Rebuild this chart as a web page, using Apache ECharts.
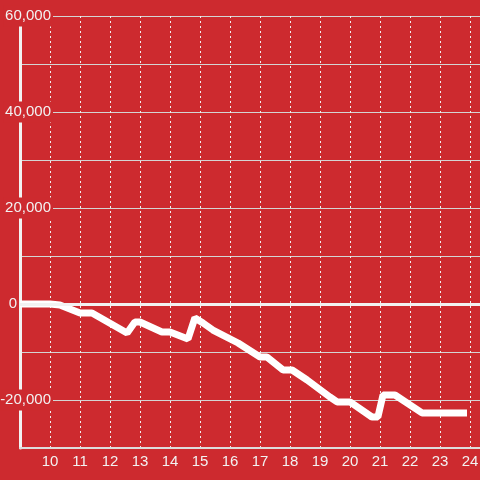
<!DOCTYPE html>
<html>
<head>
<meta charset="utf-8">
<script src="https://cdn.jsdelivr.net/npm/echarts@6/dist/echarts.min.js"></script>
<style>html,body{margin:0;padding:0;background:#cd2a2f;}#c{width:480px;height:480px;}</style>
</head>
<body>
<div id="c"></div>
<script>
// x positions (day/hour units) and values
var xValues = [9, 10.0, 10.33, 11.0, 11.4, 12.57, 12.83, 13.0, 13.73, 14.0, 14.6, 14.83, 15.1, 15.43, 16.27, 17.0, 17.23, 17.77, 18.07, 18.57, 19.33, 19.57, 20.0, 20.73, 20.93, 21.1, 21.5, 22.4, 23.9];
var yValues = [0, 0, -200, -1875, -1875, -6040, -3750, -3750, -5830, -5830, -7290, -2900, -3960, -5420, -8125, -11040, -11040, -13750, -13750, -15830, -19375, -20400, -20400, -23540, -23540, -18960, -18960, -22700, -22700];
var yLabelValues = [60000, 40000, 20000, 0, -20000];

var seriesData = xValues.map(function (x, i) { return [x, yValues[i]]; });
var bg = '#cd2a2f';
var chart = echarts.init(document.getElementById('c'));
chart.setOption({
  backgroundColor: bg,
  animation: false,
  grid: { left: 20, right: 0, top: 16, bottom: 32, containLabel: false, outerBoundsMode: 'none' },
  xAxis: {
    type: 'value', min: 9, max: 24.3333, interval: 1,
    axisLine: { onZero: false, lineStyle: { color: '#dcdcdc', width: 2 } },
    axisTick: { show: false },
    axisLabel: { color: '#f2f2f2', fontSize: 15, fontFamily: 'Liberation Sans, Arial, sans-serif', margin: 6, showMinLabel: false, showMaxLabel: false,
      formatter: function (v) { return Math.abs(v - Math.round(v)) < 1e-6 ? String(Math.round(v)) : ''; } },
    splitLine: { show: true, lineStyle: { color: '#f0f0f0', type: [2, 3], width: 1 } }
  },
  yAxis: {
    type: 'value', min: -30000, max: 60000, interval: 10000,
    axisLine: { show: true, lineStyle: { color: '#f2f2f2', width: 3 } },
    axisTick: { show: false },
    axisLabel: {
      color: '#f2f2f2', fontSize: 15, fontFamily: 'Liberation Sans, Arial, sans-serif', margin: -33, align: 'right',
      formatter: function (v) {
        if (yLabelValues.indexOf(v) < 0) return '';
        if (v === 0) return '{z|0}';
        return '{a|' + echarts.format.addCommas(v) + '}';
      },
      rich: {
        a: { color: '#f2f2f2', fontSize: 15, fontFamily: 'Liberation Sans, Arial, sans-serif', backgroundColor: bg, padding: [3, 2, 3, 2] },
        z: { color: '#f2f2f2', fontSize: 15, fontFamily: 'Liberation Sans, Arial, sans-serif', padding: [0, 36, 0, 0] }
      }
    },
    splitLine: { show: true, lineStyle: { color: '#d4d4d4', width: 1 } }
  },
  series: [{
    type: 'line',
    data: seriesData,
    showSymbol: false,
    symbol: 'none',
    lineStyle: { color: '#ffffff', width: 7 },
    z: 3,
    markLine: {
      silent: true, symbol: 'none', label: { show: false },
      lineStyle: { color: '#f2f2f2', width: 3, type: 'solid' },
      data: [{ yAxis: 0 }]
    }
  }]
});
</script>
</body>
</html>
